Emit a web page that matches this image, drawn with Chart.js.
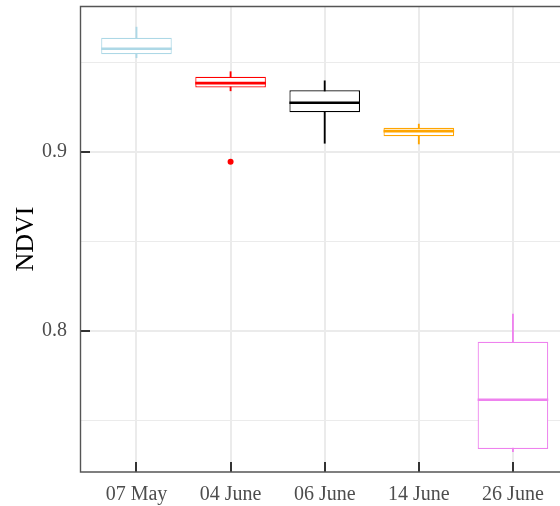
<!DOCTYPE html>
<html>
<head>
<meta charset="utf-8">
<script src="https://cdn.jsdelivr.net/npm/chart.js@4"></script>
<style>
html,body{margin:0;padding:0;background:#fff;}
#wrap{width:560px;height:506px;position:relative;}
</style>
</head>
<body>
<div id="wrap"><canvas id="c" width="560" height="506"></canvas></div>
<script>
const categories = ['07 May', '04 June', '06 June', '14 June', '26 June'];
const whiskerLow  = [0.9527, 0.9342, 0.9049, 0.9045, 0.7325];
const q1          = [0.9547, 0.9361, 0.9222, 0.9088, 0.7341];
const median      = [0.9577, 0.9385, 0.9275, 0.9117, 0.7616];
const q3          = [0.9638, 0.9421, 0.9345, 0.9136, 0.7940];
const whiskerHigh = [0.9698, 0.9449, 0.9398, 0.9156, 0.8095];
const outlierX = [1];
const outlierY = [0.8946];
const colors = ['#ADD8E6', '#FF0000', '#000000', '#FFA500', '#EE82EE'];
const yTickValues = [0.75, 0.8, 0.85, 0.9, 0.95];
const yTickLabels = {0.8: '0.8', 0.9: '0.9'};

const FONT = "'Liberation Serif', 'Times New Roman', serif";
const BOX_HALF = 0.375;

const idx = categories.map((_, i) => i);

const frame = {
  id: 'frame',
  afterDatasetsDraw(chart) {
    const {ctx, chartArea: a, scales: {x, y}} = chart;
    ctx.save();
    ctx.strokeStyle = '#333333';
    ctx.lineWidth = 2;
    idx.forEach(i => {
      const px = Math.round(x.getPixelForValue(i));
      ctx.beginPath(); ctx.moveTo(px, a.bottom); ctx.lineTo(px, a.bottom - 10); ctx.stroke();
    });
    [0.8, 0.9].forEach(v => {
      const py = Math.round(y.getPixelForValue(v));
      ctx.beginPath(); ctx.moveTo(a.left, py); ctx.lineTo(a.left + 10, py); ctx.stroke();
    });
    ctx.strokeStyle = '#555555';
    ctx.lineWidth = 1.4;
    ctx.beginPath();
    ctx.moveTo(a.right, a.top + 0.5);
    ctx.lineTo(a.left + 0.5, a.top + 0.5);
    ctx.lineTo(a.left + 0.5, a.bottom);
    ctx.lineTo(a.right, a.bottom);
    ctx.stroke();
    ctx.restore();
  }
};

new Chart(document.getElementById('c'), {
  type: 'bar',
  data: {
    datasets: [
      {
        label: 'box',
        data: idx.map(i => ({x: i, y: [q1[i], q3[i]]})),
        backgroundColor: '#ffffff',
        borderColor: colors,
        borderWidth: 1.2,
        borderSkipped: false,
        barPercentage: 0.75,
        categoryPercentage: 1,
        grouped: false,
        order: 2
      },
      {
        label: 'whisker',
        data: idx.map(i => ({x: i, y: [whiskerLow[i], whiskerHigh[i]]})),
        backgroundColor: colors,
        borderWidth: 0,
        barThickness: 1.2,
        grouped: false,
        order: 3
      },
      {
        type: 'scatter',
        label: 'median',
        data: idx.map(i => ({x: i, y: median[i]})),
        pointStyle: 'line',
        borderColor: colors,
        borderWidth: 2.6,
        pointRadius: (ctx) => {
          const sx = ctx.chart.scales.x;
          return Math.abs(sx.getPixelForValue(BOX_HALF) - sx.getPixelForValue(0));
        },
        order: 1
      },
      {
        type: 'scatter',
        label: 'outlier',
        data: outlierX.map((xv, k) => ({x: xv, y: outlierY[k]})),
        pointStyle: 'circle',
        backgroundColor: outlierX.map(xv => colors[xv]),
        borderWidth: 0,
        pointRadius: 3,
        order: 0
      }
    ]
  },
  options: {
    responsive: false,
    animation: false,
    events: [],
    layout: {autoPadding: false, padding: {top: 6, right: 0, left: 0, bottom: 0}},
    plugins: {legend: {display: false}, tooltip: {enabled: false}, title: {display: false}},
    scales: {
      x: {
        type: 'linear',
        min: -0.6,
        max: 4.5,
        offset: false,
        afterBuildTicks: (s) => { s.ticks = idx.map(v => ({value: v})); },
        afterFit: (s) => { s.height = 34; s.paddingLeft = 0; s.paddingRight = 0; },
        ticks: {
          callback: (v) => categories[v] !== undefined ? categories[v] : '',
          color: '#4D4D4D',
          font: {family: FONT, size: 20},
          padding: 11,
          maxRotation: 0,
          autoSkip: false
        },
        grid: {color: '#EBEBEB', lineWidth: 2, drawTicks: false, offset: false},
        border: {display: false}
      },
      y: {
        min: 0.7212,
        max: 0.9816,
        afterBuildTicks: (s) => { s.ticks = yTickValues.map(v => ({value: v})); },
        afterFit: (s) => { s.width = 80; s.paddingTop = 0; s.paddingBottom = 0; },
        ticks: {
          callback: (v) => yTickLabels[v] || '',
          color: '#4D4D4D',
          font: {family: FONT, size: 20},
          padding: 13,
          autoSkip: false
        },
        grid: {
          color: '#EBEBEB',
          lineWidth: (ctx) => (ctx.tick && yTickLabels[ctx.tick.value]) ? 2 : 1.1,
          drawTicks: false
        },
        border: {display: false},
        title: {
          display: true,
          text: 'NDVI',
          color: '#000000',
          font: {family: FONT, size: 26},
          padding: {top: 11, bottom: 0}
        }
      }
    }
  },
  plugins: [frame]
});
</script>
</body>
</html>
